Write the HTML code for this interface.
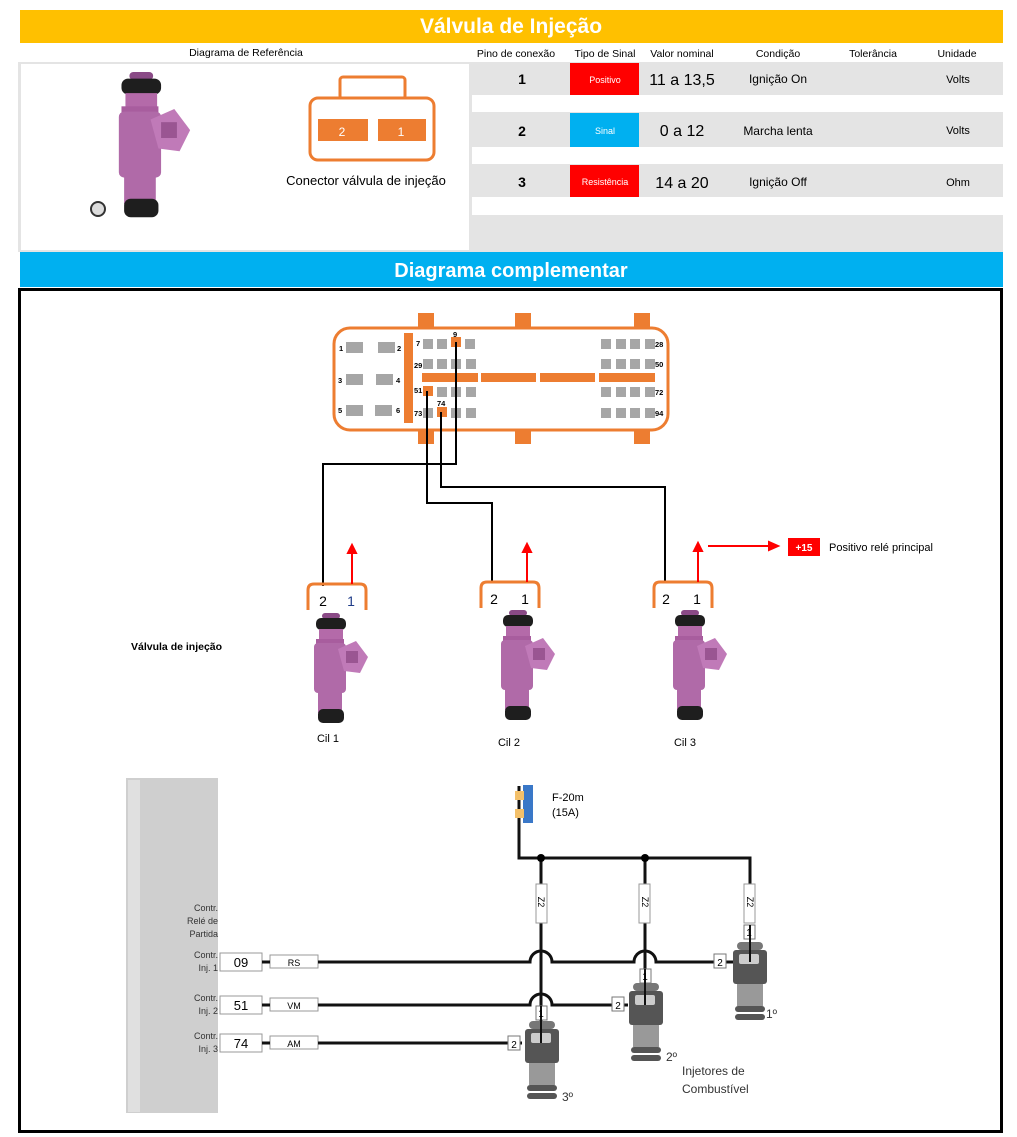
<!DOCTYPE html>
<html><head><meta charset="utf-8"><style>
body{margin:0;background:#fff;width:1017px;height:1137px;overflow:hidden}
svg{display:block;font-family:"Liberation Sans",sans-serif}
</style></head><body>
<svg width="1017" height="1137" viewBox="0 0 1017 1137">
<defs>
<g id="inj">
 <rect x="20" y="0" width="18" height="6" rx="3" fill="#8a4a86"/>
 <rect x="14" y="5" width="30" height="12" rx="5" fill="#1e1e1e"/>
 <rect x="17" y="16" width="24" height="12" fill="#b46aa9"/>
 <rect x="14" y="26" width="28" height="6" fill="#a85d9e"/>
 <rect x="12" y="30" width="32" height="50" rx="4" fill="#b06aa8"/>
 <polygon points="36,36 54,28 66,44 58,60 42,58" fill="#c07ab8"/>
 <rect x="44" y="38" width="12" height="12" fill="#9a5592"/>
 <rect x="16" y="78" width="24" height="22" fill="#b06aa8"/>
 <rect x="16" y="96" width="26" height="14" rx="5" fill="#1e1e1e"/>
</g>
<g id="ginj">
 <rect x="6" y="0" width="26" height="8" rx="4" fill="#777"/>
 <rect x="2" y="8" width="34" height="34" rx="3" fill="#555"/>
 <rect x="8" y="12" width="20" height="10" rx="2" fill="#ccc"/>
 <rect x="6" y="42" width="26" height="22" fill="#999"/>
 <rect x="4" y="64" width="30" height="6" rx="3" fill="#555"/>
 <rect x="4" y="72" width="30" height="6" rx="3" fill="#555"/>
</g>
</defs>
<!-- header -->
<rect x="20" y="10" width="983" height="33" fill="#FFC000"/>
<text x="511" y="33" font-size="21" font-weight="bold" fill="#fff" text-anchor="middle">Válvula de Injeção</text>
<g font-size="10.5" fill="#000" text-anchor="middle">
<text x="246" y="56">Diagrama de Referência</text>
<text x="516" y="57">Pino de conexão</text>
<text x="605" y="57">Tipo de Sinal</text>
<text x="682" y="57">Valor nominal</text>
<text x="778" y="57">Condição</text>
<text x="873" y="57">Tolerância</text>
<text x="957" y="57">Unidade</text>
</g>
<rect x="18" y="62" width="454" height="190" fill="#e4e4e4"/>
<rect x="21" y="64" width="448" height="186" fill="#fff"/>
<rect x="472" y="62" width="531" height="190" fill="#e4e4e4"/>
<rect x="472" y="95" width="531" height="17" fill="#fff"/>
<rect x="472" y="147" width="531" height="17" fill="#fff"/>
<rect x="472" y="197" width="531" height="18" fill="#fff"/>
<rect x="570" y="63" width="69" height="32" fill="#FF0000"/>
<rect x="570" y="113" width="69" height="34" fill="#00B0F0"/>
<rect x="570" y="165" width="69" height="32" fill="#FF0000"/>
<g text-anchor="middle">
<text x="522" y="84" font-size="14" font-weight="bold">1</text>
<text x="522" y="136" font-size="14" font-weight="bold">2</text>
<text x="522" y="187" font-size="14" font-weight="bold">3</text>
<text x="605" y="83" font-size="9" fill="#fff">Positivo</text>
<text x="605" y="134" font-size="9" fill="#fff">Sinal</text>
<text x="605" y="185" font-size="9" fill="#fff">Resistência</text>
<text x="682" y="85" font-size="16">11 a 13,5</text>
<text x="682" y="136" font-size="16">0 a 12</text>
<text x="682" y="188" font-size="16">14 a 20</text>
<text x="778" y="83" font-size="12">Ignição On</text>
<text x="778" y="135" font-size="12">Marcha lenta</text>
<text x="778" y="186" font-size="12">Ignição Off</text>
<text x="958" y="83" font-size="11">Volts</text>
<text x="958" y="134" font-size="11">Volts</text>
<text x="958" y="186" font-size="11">Ohm</text>
</g>
<use href="#inj" transform="translate(103,72) scale(1.32)"/>
<circle cx="98" cy="209" r="7" fill="#ddd" stroke="#333" stroke-width="2"/>
<rect x="340" y="77" width="65" height="22" rx="3" fill="#fff" stroke="#ED7D31" stroke-width="3"/>
<rect x="310" y="98" width="124" height="62" rx="8" fill="#fff" stroke="#ED7D31" stroke-width="3"/>
<rect x="318" y="119" width="50" height="22" fill="#ED7D31"/>
<rect x="378" y="119" width="48" height="22" fill="#ED7D31"/>
<text x="342" y="136" font-size="12" fill="#fff" text-anchor="middle">2</text>
<text x="401" y="136" font-size="12" fill="#fff" text-anchor="middle">1</text>
<text x="366" y="185" font-size="13" text-anchor="middle">Conector válvula de injeção</text>
<rect x="20" y="252" width="983" height="35" fill="#00B0F0"/>
<text x="511" y="277" font-size="20" font-weight="bold" fill="#fff" text-anchor="middle">Diagrama complementar</text>
<rect x="19.5" y="289.5" width="982" height="842" fill="none" stroke="#000" stroke-width="3"/>
<!-- ECU connector -->
<g fill="#ED7D31">
<rect x="418" y="313" width="16" height="16"/><rect x="515" y="313" width="16" height="16"/><rect x="634" y="313" width="16" height="16"/>
<rect x="418" y="429" width="16" height="15"/><rect x="515" y="429" width="16" height="15"/><rect x="634" y="429" width="16" height="15"/>
</g>
<rect x="334" y="328" width="334" height="102" rx="16" fill="#fff" stroke="#ED7D31" stroke-width="3"/>
<g fill="#ED7D31">
<rect x="404" y="333" width="9" height="90"/>
<rect x="422" y="373" width="56" height="9"/><rect x="481" y="373" width="55" height="9"/><rect x="540" y="373" width="55" height="9"/><rect x="599" y="373" width="56" height="9"/>
</g>
<g fill="#a6a6a6">
<rect x="346" y="342" width="17" height="11"/><rect x="378" y="342" width="17" height="11"/>
<rect x="346" y="374" width="17" height="11"/><rect x="376" y="374" width="17" height="11"/>
<rect x="346" y="405" width="17" height="11"/><rect x="375" y="405" width="17" height="11"/>
<rect x="423" y="339" width="10" height="10"/><rect x="437" y="339" width="10" height="10"/><rect x="465" y="339" width="10" height="10"/>
<rect x="423" y="359" width="10" height="10"/><rect x="437" y="359" width="10" height="10"/><rect x="451" y="359" width="10" height="10"/><rect x="466" y="359" width="10" height="10"/>
<rect x="437" y="387" width="10" height="10"/><rect x="451" y="387" width="10" height="10"/><rect x="466" y="387" width="10" height="10"/>
<rect x="423" y="408" width="10" height="10"/><rect x="451" y="408" width="10" height="10"/><rect x="466" y="408" width="10" height="10"/>
<rect x="601" y="339" width="10" height="10"/><rect x="616" y="339" width="10" height="10"/><rect x="630" y="339" width="10" height="10"/><rect x="645" y="339" width="10" height="10"/>
<rect x="601" y="359" width="10" height="10"/><rect x="616" y="359" width="10" height="10"/><rect x="630" y="359" width="10" height="10"/><rect x="645" y="359" width="10" height="10"/>
<rect x="601" y="387" width="10" height="10"/><rect x="616" y="387" width="10" height="10"/><rect x="630" y="387" width="10" height="10"/><rect x="645" y="387" width="10" height="10"/>
<rect x="601" y="408" width="10" height="10"/><rect x="616" y="408" width="10" height="10"/><rect x="630" y="408" width="10" height="10"/><rect x="645" y="408" width="10" height="10"/>
</g>
<g fill="#ED7D31"><rect x="451" y="337" width="10" height="10"/><rect x="423" y="386" width="10" height="10"/><rect x="437" y="407" width="10" height="10"/></g>
<g font-size="7.5" font-weight="bold">
<text x="339" y="351">1</text><text x="397" y="351">2</text><text x="338" y="383">3</text><text x="396" y="383">4</text>
<text x="338" y="413">5</text><text x="396" y="413">6</text>
<text x="416" y="346">7</text><text x="453" y="337">9</text><text x="414" y="368">29</text><text x="414" y="393">51</text>
<text x="437" y="406">74</text><text x="414" y="416">73</text>
<text x="655" y="347">28</text><text x="655" y="367">50</text><text x="655" y="395">72</text><text x="655" y="416">94</text>
</g>
<!-- wires -->
<g fill="none" stroke="#000" stroke-width="2">
<polyline points="456,342 456,464 323,464 323,586"/>
<polyline points="427,391 427,503 492,503 492,582"/>
<polyline points="441,412 441,487 665,487 665,582"/>
</g>
<!-- injector connectors -->
<g fill="none" stroke="#ED7D31" stroke-width="3">
<path d="M308,610 V590 Q308,584 314,584 H360 Q366,584 366,590 V610"/>
<path d="M481,608 V588 Q481,582 487,582 H533 Q539,582 539,588 V608"/>
<path d="M654,608 V588 Q654,582 660,582 H706 Q712,582 712,588 V608"/>
</g>
<g stroke="#f00" stroke-width="2" fill="#f00">
<line x1="352" y1="584" x2="352" y2="552"/><polygon points="348,553 356,553 352,545"/>
<line x1="527" y1="582" x2="527" y2="551"/><polygon points="523,552 531,552 527,544"/>
<line x1="698" y1="582" x2="698" y2="550"/><polygon points="694,551 702,551 698,543"/>
<line x1="708" y1="546" x2="770" y2="546"/><polygon points="769,542 769,550 778,546"/>
</g>
<rect x="788" y="538" width="32" height="18" fill="#f00"/>
<text x="804" y="551" font-size="10" font-weight="bold" fill="#fff" text-anchor="middle">+15</text>
<text x="829" y="551" font-size="11">Positivo relé principal</text>
<g font-size="14" text-anchor="middle">
<text x="323" y="606">2</text><text x="351" y="606" fill="#1f3c88">1</text>
<text x="494" y="604">2</text><text x="525" y="604">1</text>
<text x="666" y="604">2</text><text x="697" y="604">1</text>
</g>
<use href="#inj" x="302" y="613"/>
<use href="#inj" x="489" y="610"/>
<use href="#inj" x="661" y="610"/>
<g font-size="11" text-anchor="middle">
<text x="328" y="742">Cil 1</text><text x="509" y="746">Cil 2</text><text x="685" y="746">Cil 3</text>
</g>
<text x="131" y="650" font-size="10.5" font-weight="bold">Válvula de injeção</text>
<!-- bottom diagram -->
<rect x="126" y="778" width="92" height="335" fill="#cfcfcf"/>
<rect x="128" y="780" width="12" height="332" fill="#e0e0e0"/>
<g font-size="9" fill="#333" text-anchor="end">
<text x="218" y="911">Contr.</text><text x="218" y="924">Relé de</text><text x="218" y="937">Partida</text>
<text x="218" y="958">Contr.</text><text x="218" y="971">Inj. 1</text>
<text x="218" y="1001">Contr.</text><text x="218" y="1014">Inj. 2</text>
<text x="218" y="1039">Contr.</text><text x="218" y="1052">Inj. 3</text>
</g>
<g fill="#fff" stroke="#999" stroke-width="1">
<rect x="220" y="953" width="42" height="18"/><rect x="270" y="955" width="48" height="13"/>
<rect x="220" y="996" width="42" height="18"/><rect x="270" y="998" width="48" height="13"/>
<rect x="220" y="1034" width="42" height="18"/><rect x="270" y="1036" width="48" height="13"/>
</g>
<g text-anchor="middle">
<text x="241" y="967" font-size="13">09</text><text x="294" y="966" font-size="9">RS</text>
<text x="241" y="1010" font-size="13">51</text><text x="294" y="1009" font-size="9">VM</text>
<text x="241" y="1048" font-size="13">74</text><text x="294" y="1047" font-size="9">AM</text>
</g>
<g fill="none" stroke="#111" stroke-width="3">
<line x1="262" y1="962" x2="270" y2="962"/><line x1="262" y1="1005" x2="270" y2="1005"/><line x1="262" y1="1043" x2="270" y2="1043"/>
<polyline points="519,786 519,858 750,858 750,885"/>
<line x1="541" y1="858" x2="541" y2="1030"/>
<line x1="645" y1="858" x2="645" y2="995"/>
<path d="M318,962 H530 A11,11 0 0 1 552,962 H634 A11,11 0 0 1 656,962 H740"/>
<path d="M318,1005 H530 A11,11 0 0 1 552,1005 H628"/>
<path d="M318,1043 H522"/>
</g>
<circle cx="541" cy="858" r="4"/><circle cx="645" cy="858" r="4"/>
<rect x="523" y="785" width="10" height="38" fill="#3a78c8"/>
<rect x="515" y="791" width="9" height="9" fill="#f3c06a"/><rect x="515" y="809" width="9" height="9" fill="#f3c06a"/>
<text x="552" y="801" font-size="11">F-20m</text><text x="552" y="816" font-size="11">(15A)</text>
<g fill="#fff" stroke="#999">
<rect x="536" y="884" width="11" height="39"/><rect x="639" y="884" width="11" height="39"/><rect x="744" y="884" width="11" height="39"/>
</g>
<g font-size="9" text-anchor="middle">
<text x="541" y="905" transform="rotate(90 541 902)">Z2</text>
<text x="645" y="905" transform="rotate(90 645 902)">Z2</text>
<text x="750" y="905" transform="rotate(90 750 902)">Z2</text>
</g>
<use href="#ginj" x="731" y="942"/>
<use href="#ginj" x="627" y="983"/>
<use href="#ginj" x="523" y="1021"/>
<g fill="#fff" stroke="#777">
<rect x="744" y="925" width="11" height="14"/><rect x="714" y="954" width="12" height="14"/>
<rect x="640" y="969" width="11" height="14"/><rect x="612" y="997" width="12" height="14"/>
<rect x="536" y="1006" width="11" height="14"/><rect x="508" y="1036" width="12" height="14"/>
</g>
<g fill="none" stroke="#111" stroke-width="2">
<line x1="750" y1="925" x2="750" y2="962"/><line x1="645" y1="969" x2="645" y2="1005"/><line x1="541" y1="1006" x2="541" y2="1043"/>
</g>
<g font-size="10" text-anchor="middle">
<text x="749" y="936">1</text><text x="720" y="966">2</text>
<text x="645" y="980">1</text><text x="618" y="1009">2</text>
<text x="541" y="1017">1</text><text x="514" y="1048">2</text>
</g>
<g font-size="12" fill="#333">
<text x="766" y="1018">1º</text><text x="666" y="1061">2º</text><text x="562" y="1101">3º</text>
<text x="682" y="1075">Injetores de</text><text x="682" y="1093">Combustível</text>
</g>
</svg>
</body></html>
